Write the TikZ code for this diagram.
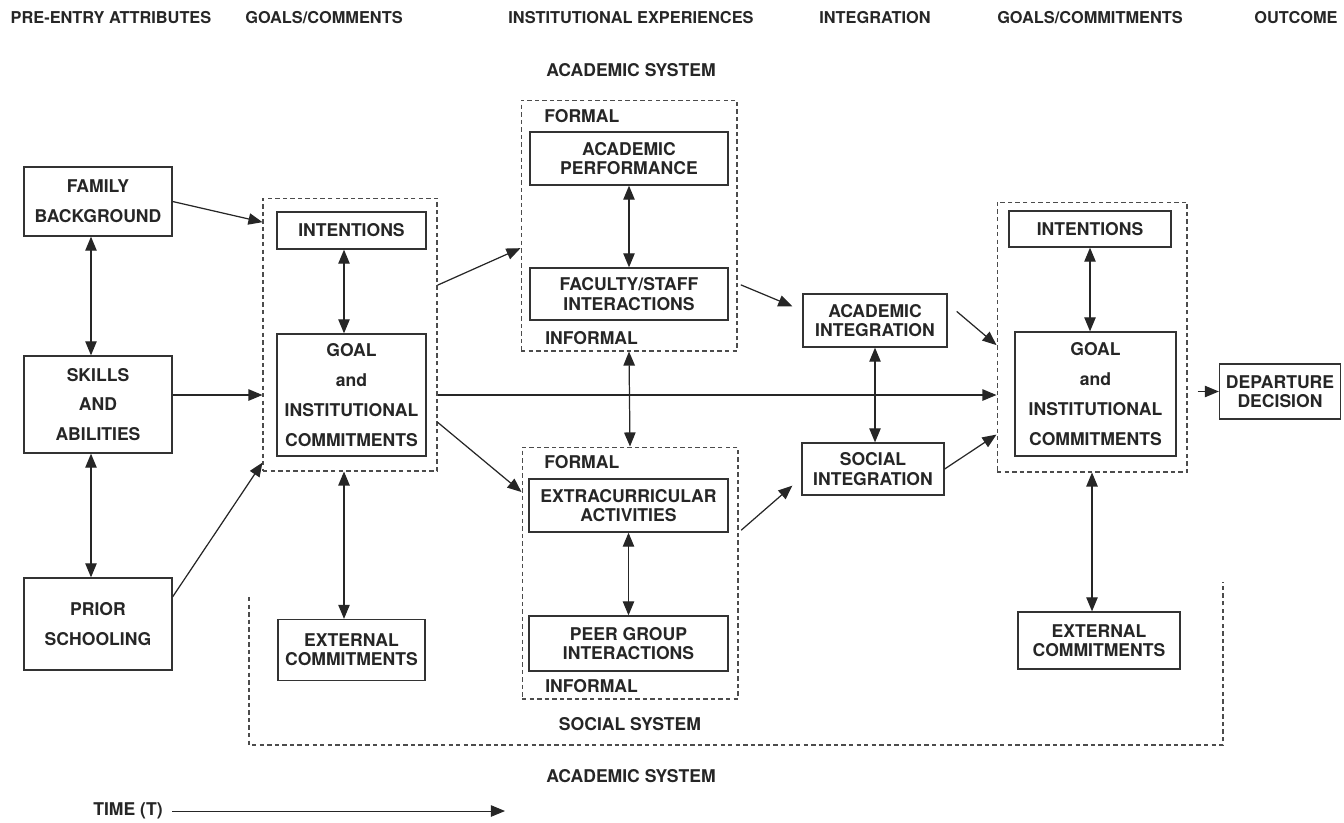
\documentclass[tikz,border=0pt]{standalone}
\usepackage{fontspec}
\setmainfont{TeX Gyre Heros}
\usetikzlibrary{arrows.meta,positioning,calc}

\begin{document}
\begin{tikzpicture}[x=0.02cm, y=-0.02cm,
    box/.style={rectangle, draw=black!80, line width=0.75pt, inner sep=0pt,
                align=center, text=black!85,
                font=\bfseries\fontsize{10}{11}\selectfont},
    tall/.style={box, font=\bfseries\fontsize{10}{17}\selectfont},
    group/.style={rectangle, draw=black!70, line width=0.6pt,
                  dash pattern=on 2.5pt off 1.8pt},
    arr/.style={-{Triangle[length=8pt,width=6.5pt]}, line width=0.7pt, draw=black!85},
    both/.style={{Triangle[length=8pt,width=6.5pt]}-{Triangle[length=8pt,width=6.5pt]},
                 line width=0.7pt, draw=black!85},
    heading/.style={font=\bfseries\fontsize{9.3}{11}\selectfont, text=black!85},
    tag/.style={inner sep=0pt, font=\bfseries\fontsize{10}{12}\selectfont, text=black!85}
]
\useasboundingbox (0,0) rectangle (1344,822);

% Column headings
\node[heading] (hPre)  at (111,18)  {PRE-ENTRY ATTRIBUTES};
\node[heading] (hGoal) at (324,18)  {GOALS/COMMENTS};
\node[heading] (hInst) at (631,18)  {INSTITUTIONAL EXPERIENCES};
\node[heading] (hInt)  at (875,18)  {INTEGRATION};
\node[heading] (hCom)  at (1090,18) {GOALS/COMMITMENTS};
\node[heading] (hOut)  at (1296,18) {OUTCOME};

\node[tag] (acadTop) at (631,70)  {ACADEMIC SYSTEM};
\node[tag] (socSys)  at (630,724) {SOCIAL SYSTEM};
\node[tag] (acadBot) at (631,776) {ACADEMIC SYSTEM};

% Dashed groups
\node[group, minimum width=3.48cm, minimum height=5.46cm] (grpL) at (350,334.5) {};
\node[group, minimum width=4.32cm, minimum height=5.02cm] (grpA) at (629,225.5) {};
\node[group, minimum width=4.32cm, minimum height=5.04cm] (grpS) at (630,573)   {};
\node[group, minimum width=3.8cm,  minimum height=5.4cm]  (grpR) at (1092,337)  {};
\draw[group] (249,597) -- (249,745) -- (1223,745) -- (1223,582);

\node[tag, anchor=west] (formA)   at (544,116) {FORMAL};
\node[tag, anchor=west] (informA) at (545,338) {INFORMAL};
\node[tag, anchor=west] (formS)   at (544,462) {FORMAL};
\node[tag, anchor=west] (informS) at (545,686) {INFORMAL};

% Pre-entry attributes
\node[tall, minimum width=2.96cm, minimum height=1.38cm] (fam)    at (98,201.5) {FAMILY\\BACKGROUND};
\node[tall, minimum width=2.96cm, minimum height=1.94cm] (skills) at (98,404.5) {SKILLS\\AND\\ABILITIES};
\node[tall, minimum width=2.96cm, minimum height=1.84cm] (prior)  at (98,624)   {PRIOR\\SCHOOLING};

% Goals/commitments at entry
\node[box,  minimum width=2.98cm, minimum height=0.74cm] (intL)  at (351.5,230.5) {INTENTIONS};
\node[tall, minimum width=2.98cm, minimum height=2.44cm] (goalL) at (351.5,395)   {GOAL\\and\\INSTITUTIONAL\\COMMITMENTS};
\node[box,  minimum width=2.94cm, minimum height=1.22cm] (extL)  at (351.5,650)   {EXTERNAL\\COMMITMENTS};

% Institutional experiences
\node[box, minimum width=3.96cm, minimum height=1.06cm] (perf)  at (629,158.5) {ACADEMIC\\PERFORMANCE};
\node[box, minimum width=3.96cm, minimum height=1.04cm] (fac)   at (629,294)   {FACULTY/STAFF\\INTERACTIONS};
\node[box, minimum width=3.98cm, minimum height=1.06cm] (extra) at (628.5,505.5) {EXTRACURRICULAR\\ACTIVITIES};
\node[box, minimum width=3.98cm, minimum height=1.1cm]  (peer)  at (628.5,643.5) {PEER GROUP\\INTERACTIONS};

% Integration
\node[box, minimum width=2.88cm, minimum height=1.06cm] (acadI) at (875,320.5) {ACADEMIC\\INTEGRATION};
\node[box, minimum width=2.84cm, minimum height=1.04cm] (socI)  at (873,469)   {SOCIAL\\INTEGRATION};

% Goals/commitments later
\node[box,  minimum width=3.24cm, minimum height=0.72cm] (intR)  at (1090,229)   {INTENTIONS};
\node[tall, minimum width=3.22cm, minimum height=2.48cm] (goalR) at (1095.5,394) {GOAL\\and\\INSTITUTIONAL\\COMMITMENTS};
\node[box,  minimum width=3.24cm, minimum height=1.14cm] (extR)  at (1099,640.5) {EXTERNAL\\COMMITMENTS};

% Outcome
\node[box, minimum width=2.42cm, minimum height=1.1cm] (dep) at (1280,391.5) {DEPARTURE\\DECISION};

% Links
\draw[both] ([xshift=-0.14cm]fam.south) -- ([xshift=-0.14cm]skills.north);
\draw[both] ([xshift=-0.14cm]skills.south) -- ([xshift=-0.14cm]prior.north);
\draw[arr] (fam.east) -- ($(grpL.north west)!0.09!(grpL.south west)$);
\draw[arr] (skills.east |- goalL) -- (grpL.west |- goalL);
\draw[arr] (prior.20) -- ($(grpL.south west)+(0,-9)$);

\draw[both] ([xshift=-0.15cm]intL.south) -- ([xshift=-0.15cm]goalL.north);
\draw[both] ([xshift=-0.12cm]grpL.south) -- ([xshift=-0.12cm]grpL.south |- extL.north);
\draw[arr] ($(grpL.north east)!0.32!(grpL.south east)$) -- ($(grpA.north west)!0.59!(grpA.south west)$);
\draw[arr] (grpL.east |- goalL) -- (grpR.west |- goalL);
\draw[arr] ($(grpL.north east)!0.82!(grpL.south east)$) -- ($(grpS.north west)!0.18!(grpS.south west)$);

\draw[both] (perf.south) -- (fac.north);
\draw[both] (grpA.south) -- (grpS.north);
\draw[both] (extra.south) -- (peer.north);
\draw[arr, shorten <=2pt] ($(grpA.north east)!0.73!(grpA.south east)$) -- ($(acadI.north west)+(-10,13)$);
\draw[arr, shorten <=2pt] ($(grpS.north east)!0.34!(grpS.south east)$) -- ($(socI.south west)+(-9,-10)$);

\draw[both] (acadI.south) -- (acadI.south |- socI.north);
\draw[arr] ($(acadI.north east)+(9,18)$) -- ($(grpR.north west)!0.53!(grpR.south west)$);
\draw[arr] (socI.east) -- ($(grpR.north west)!0.86!(grpR.south west)$);

\draw[both] (intR.south) -- (intR.south |- goalR.north);
\draw[both] (grpR.south) -- (grpR.south |- extR.north);
\draw[arr, shorten <=0.2cm] (grpR.east |- dep) -- (dep.west);

% Time axis
\node[tag, anchor=east] (time) at (163,811) {TIME (T)};
\coordinate (tend) at (505,811);
\draw[arr, line width=0.5pt, shorten <=0.18cm] (time.east) -- (tend);

\end{tikzpicture}
\end{document}
